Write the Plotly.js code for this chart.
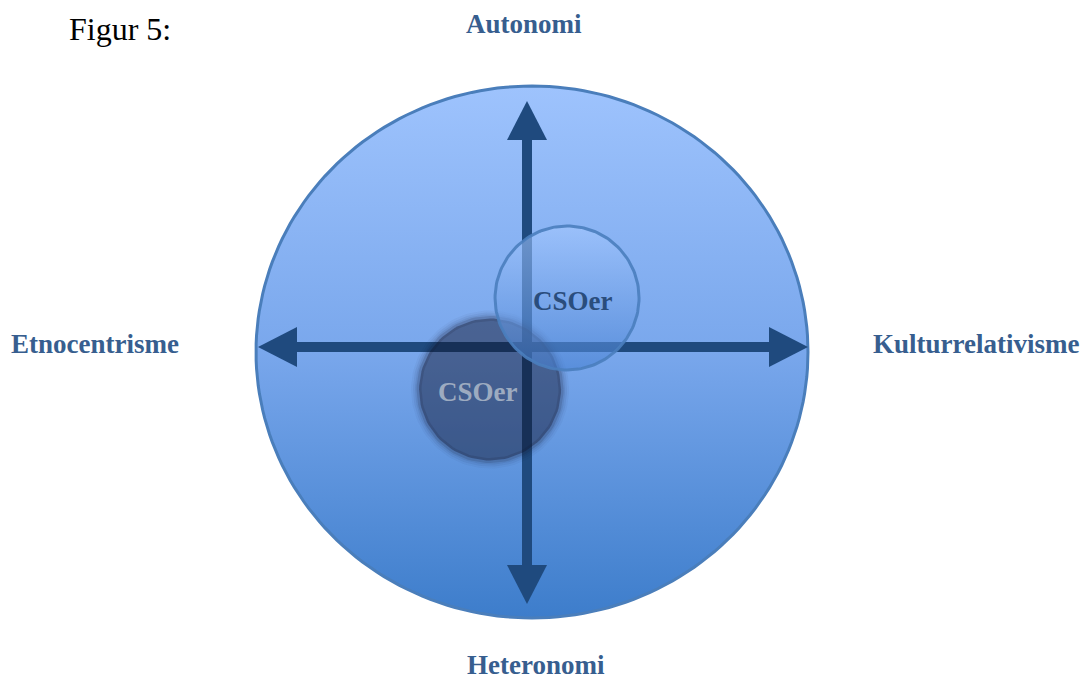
<!DOCTYPE html>
<html><head><meta charset="utf-8">
<script src="https://cdn.plot.ly/plotly-3.0.1.min.js"></script>
<style>html,body{margin:0;padding:0;background:#fff}#chart{width:1085px;height:681px}</style>
</head><body><div id="chart"></div>
<script>
// ---- data ----
const figureTitle = 'Figur 5:';
const axisLabels = ['Autonomi', 'Heteronomi', 'Etnocentrisme', 'Kulturrelativisme'];
const groupNames = ['CSOer', 'CSOer'];
// position on Etnocentrisme (-1) .. Kulturrelativisme (+1)
const groupX = [0.127, -0.152];
// position on Heteronomi (-1) .. Autonomi (+1)
const groupY = [0.203, -0.141];

// ---- layout helpers (pixel -> concept space) ----
const W = 1085, H = 681, CX = 532, CY = 352, SX = 276, SY = 266;
const px = x => (x - CX) / SX;
const py = y => (CY - y) / SY;

function ellipse(cx, cy, rx, ry, n) {
  const xs = [], ys = [];
  for (let i = 0; i <= n; i++) {
    const t = 2 * Math.PI * i / n;
    xs.push(cx + rx * Math.cos(t)); ys.push(cy + ry * Math.sin(t));
  }
  return {x: xs, y: ys};
}

const traces = [];
// big circle
const big = ellipse(0, 0, 1, 1, 200);
traces.push({x: big.x, y: big.y, mode: 'lines', fill: 'toself',
  line: {color: '#4a7ebb', width: 3},
  fillgradient: {type: 'vertical', colorscale: [[0, '#3d7dcb'], [0.5, '#79a7ec'], [1, '#9ec3fd']]},
  hoverinfo: 'skip'});

// arrows
const ax0 = px(527), ay0 = py(347);
const arrowColor = '#1f4a7e';
const headL = 39, headW = 20;
const tipL = px(258), tipR = px(808), tipT = py(101), tipB = py(604);
traces.push({x: [tipL + headL / SX, tipR - headL / SX], y: [ay0, ay0], mode: 'lines',
  line: {color: arrowColor, width: 10}, hoverinfo: 'skip'});
traces.push({x: [ax0, ax0], y: [tipT - headL / SY, tipB + headL / SY], mode: 'lines',
  line: {color: arrowColor, width: 10}, hoverinfo: 'skip'});
const heads = [
  {x: [tipL, tipL + headL / SX, tipL + headL / SX, tipL], y: [ay0, ay0 + headW / SY, ay0 - headW / SY, ay0]},
  {x: [tipR, tipR - headL / SX, tipR - headL / SX, tipR], y: [ay0, ay0 + headW / SY, ay0 - headW / SY, ay0]},
  {x: [ax0, ax0 - headW / SX, ax0 + headW / SX, ax0], y: [tipT, tipT - headL / SY, tipT - headL / SY, tipT]},
  {x: [ax0, ax0 - headW / SX, ax0 + headW / SX, ax0], y: [tipB, tipB + headL / SY, tipB + headL / SY, tipB]}
];
heads.forEach(h => traces.push({x: h.x, y: h.y, mode: 'lines', fill: 'toself',
  fillcolor: arrowColor, line: {width: 0, color: arrowColor}, hoverinfo: 'skip'}));

// dark (soft-edged) circle
[[79, 0.04], [77, 0.06], [75, 0.08]].forEach(([r, a]) => {
  const c = ellipse(groupX[1], groupY[1], r / SX, r / SY, 120);
  traces.push({x: c.x, y: c.y, mode: 'lines', fill: 'toself',
    fillcolor: 'rgba(18,20,45,' + a + ')', line: {width: 0}, hoverinfo: 'skip'});
});
const dc = ellipse(groupX[1], groupY[1], 71 / SX, 71 / SY, 120);
traces.push({x: dc.x, y: dc.y, mode: 'lines', fill: 'toself',
  fillcolor: 'rgba(18,20,45,0.36)', line: {width: 5, color: 'rgba(18,20,45,0.14)'}, hoverinfo: 'skip'});

// light circle
const lc = ellipse(groupX[0], groupY[0], 72 / SX, 72 / SY, 160);
traces.push({x: lc.x, y: lc.y, mode: 'lines', fill: 'toself',
  line: {color: 'rgba(74,126,190,0.9)', width: 3},
  fillgradient: {type: 'vertical', colorscale: [[0, 'rgba(70,128,210,0.6)'], [1, 'rgba(165,200,255,0.6)']]},
  hoverinfo: 'skip'});

const serif = 'Liberation Serif, Times New Roman, serif';
const lblFont = {family: serif, size: 27, color: '#375e8f'};
const annotations = [
  {x: px(67), y: py(29), xanchor: 'left', yanchor: 'middle', text: figureTitle,
   font: {family: serif, size: 32, color: '#000'}},
  {x: px(524), y: py(24), text: '<b>' + axisLabels[0] + '</b>', font: lblFont},
  {x: px(536), y: py(665), text: '<b>' + axisLabels[1] + '</b>', font: lblFont},
  {x: px(9), y: py(344), xanchor: 'left', text: '<b>' + axisLabels[2] + '</b>', font: lblFont},
  {x: px(1081), y: py(344), xanchor: 'right', text: '<b>' + axisLabels[3] + '</b>', font: lblFont},
  {x: groupX[0] + px(573) - px(567), y: groupY[0] + py(301) - py(298), text: '<b>' + groupNames[0] + '</b>',
   font: {family: serif, size: 27, color: '#2a4d7c'}},
  {x: groupX[1] + px(478) - px(490), y: groupY[1] + py(392) - py(390), text: '<b>' + groupNames[1] + '</b>',
   font: {family: serif, size: 27, color: '#9dabc0'}}
].map(a => Object.assign({xref: 'x', yref: 'y', showarrow: false}, a));

const layout = {
  width: W, height: H, margin: {l: 0, r: 0, t: 0, b: 0},
  paper_bgcolor: '#fff', plot_bgcolor: '#fff', showlegend: false,
  xaxis: {range: [px(0), px(W)], visible: false, fixedrange: true},
  yaxis: {range: [py(H), py(0)], visible: false, fixedrange: true},
  annotations: annotations
};
Plotly.newPlot('chart', traces, layout, {staticPlot: true, displayModeBar: false});
</script></body></html>
